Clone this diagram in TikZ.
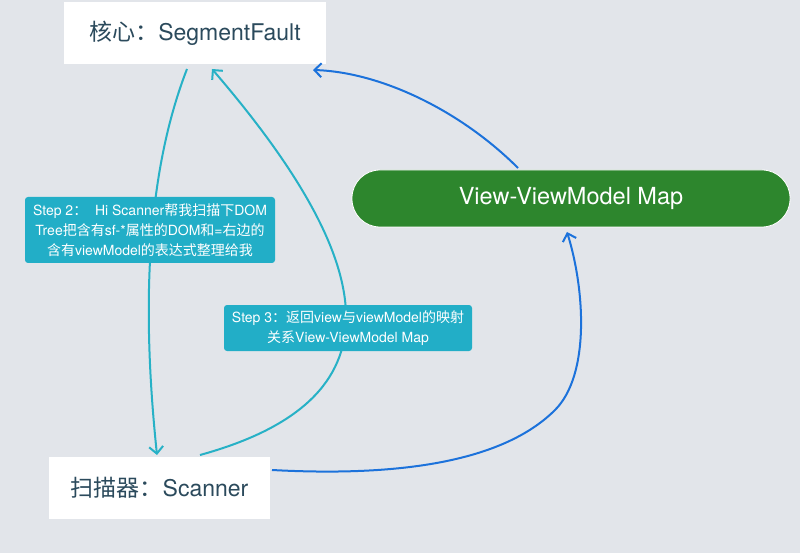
\documentclass[tikz,border=0pt]{standalone}
\usepackage{fontspec}
\setmainfont{TeX Gyre Heros}
\newfontfamily\cjk{Noto Sans CJK SC}
\usetikzlibrary{arrows.meta}
\definecolor{bg}{HTML}{E2E5EA}
\definecolor{teal}{HTML}{27B1C6}
\definecolor{stepfill}{HTML}{22AEC7}
\definecolor{blueline}{HTML}{1C72DB}
\definecolor{greenfill}{HTML}{2D862D}
\definecolor{darktext}{HTML}{2B4A5C}
\begin{document}
\begin{tikzpicture}[x=1pt,y=-1pt,
  whitebox/.style={draw=none,fill=white,inner sep=0pt,font=\fontsize{23}{27}\selectfont,text=darktext},
  stepbox/.style={fill=stepfill,rounded corners=3pt,inner sep=0pt,text=white,font=\fontsize{14}{20}\selectfont,align=center},
  mapbox/.style={fill=greenfill,draw=white,line width=0.8pt,rounded corners=28pt,inner sep=0pt,text=white,font=\fontsize{23.5}{27}\selectfont},
  tealarrow/.style={draw=teal,line width=2pt,-{Straight Barb[length=7pt,width=14pt,line width=2pt]}},
  bluearrow/.style={draw=blueline,line width=2pt,-{Straight Barb[length=7pt,width=14pt,line width=2pt]}}
]
\fill[bg] (0,0) rectangle (800,553);
\useasboundingbox (0,0) rectangle (800,553);

\node[whitebox,minimum width=262pt,minimum height=62pt] (core) at (195,33) {{\cjk 核心：}SegmentFault};
\node[whitebox,minimum width=221pt,minimum height=62pt] (scan) at (159.5,488) {{\cjk 扫描器：}Scanner};
\node[mapbox,minimum width=438pt,minimum height=57pt] (map) at (571,198.5) {View-ViewModel Map};

% connector end points
\coordinate (c1s) at (187,69);
\coordinate (c1e) at (157,455);
\coordinate (c2s) at (200,455);
\coordinate (c2e) at (212,69);
\coordinate (c3s) at (518,168);
\coordinate (c3e) at (313,70);
\coordinate (c4s) at (272,470);
\coordinate (c4m) at (555,410);
\coordinate (c4e) at (567,232);

\draw[tealarrow] (c1s) .. controls (140,190) and (145,340) .. (c1e);
\draw[tealarrow] (c2s) .. controls (400,400) and (385,270) .. (c2e);
\draw[bluearrow] (c3s) .. controls (460,110) and (380,72) .. (c3e);
\draw[bluearrow] (c4s) .. controls (420,478) and (510,455) .. (c4m) .. controls (590,375) and (585,290) .. (c4e);

\node[stepbox,minimum width=250pt,minimum height=66pt] (step2) at (150,230)
  {Step 2{\cjk ：}\ \ Hi Scanner{\cjk 帮我扫描下}DOM\\Tree{\cjk 把含有}sf-*{\cjk 属性的}DOM{\cjk 和}={\cjk 右边的}\\{\cjk 含有}viewModel{\cjk 的表达式整理给我}};
\node[stepbox,minimum width=248pt,minimum height=46pt] (step3) at (348,328)
  {Step 3{\cjk ：返回}view{\cjk 与}viewModel{\cjk 的映射}\\{\cjk 关系}View-ViewModel Map};
\end{tikzpicture}
\end{document}
